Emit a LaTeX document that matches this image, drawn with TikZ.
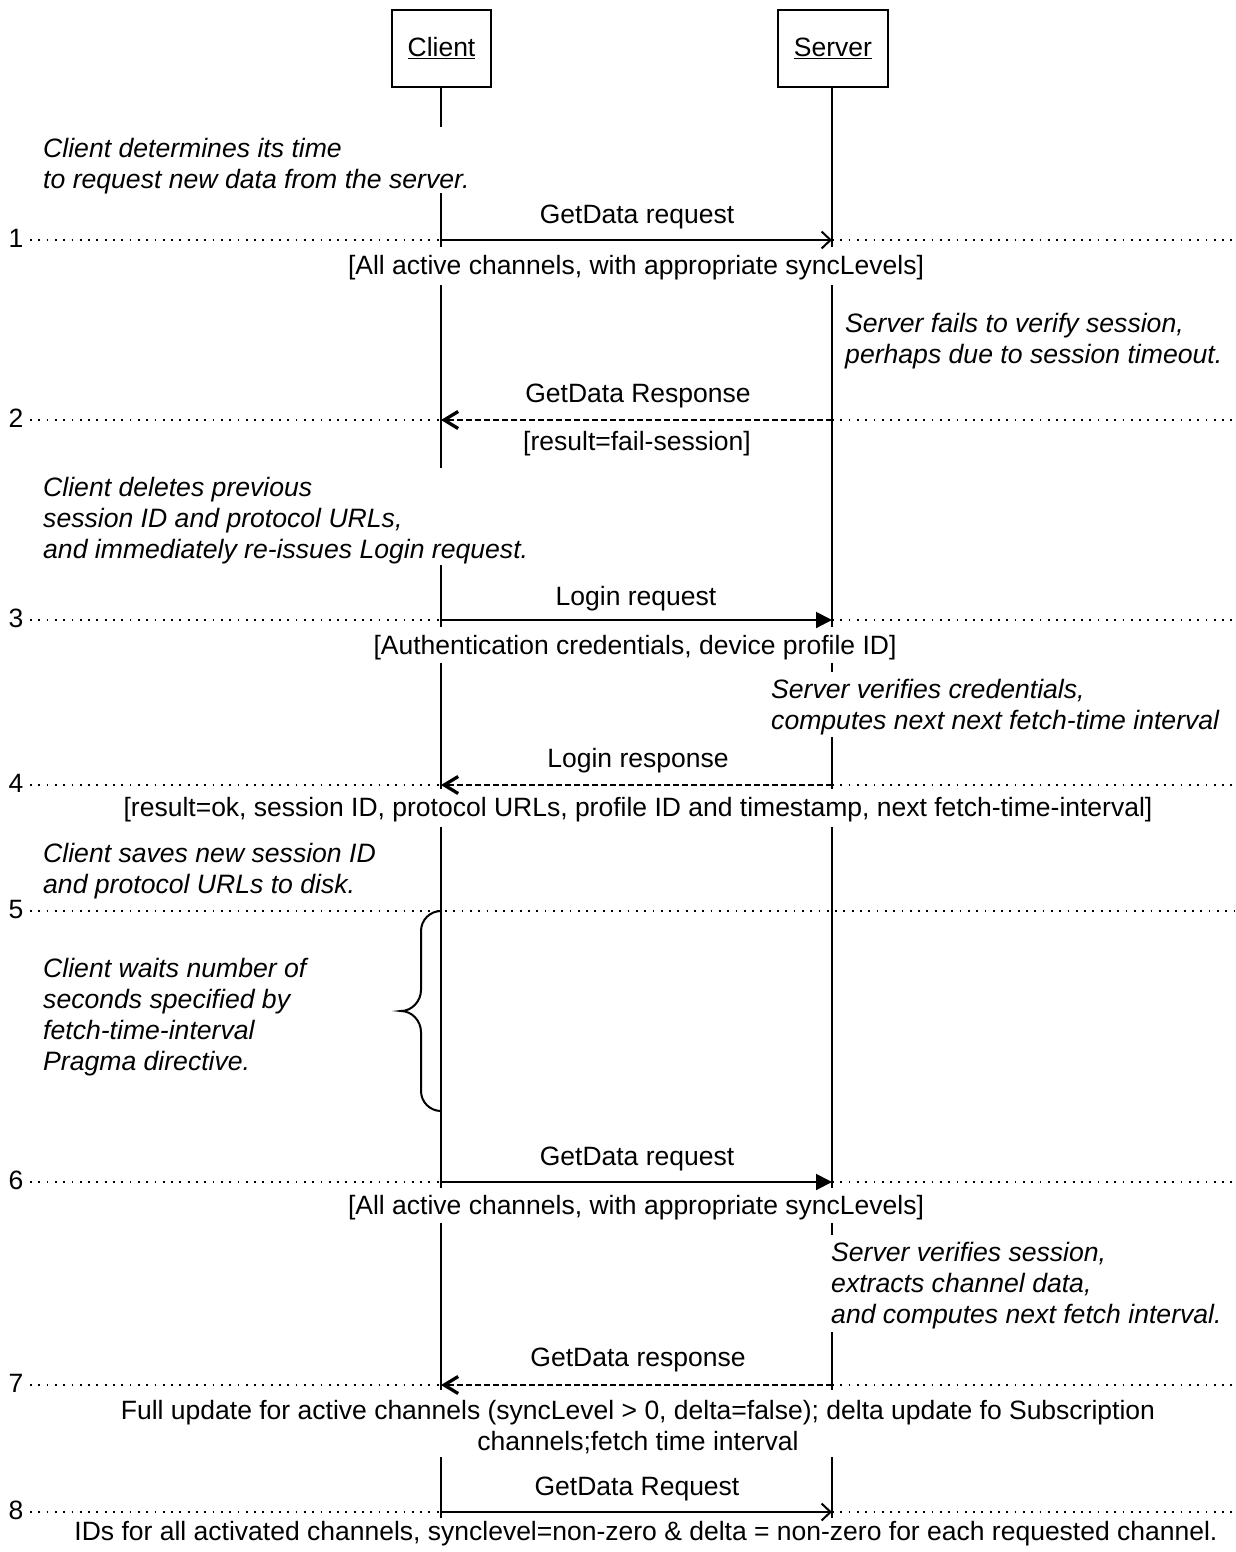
\documentclass[tikz,border=0pt]{standalone}
\usepackage{fontspec}
\setmainfont{Liberation Sans}
\usetikzlibrary{arrows.meta}
\begin{document}
\begin{tikzpicture}[x=1pt,y=1pt,
  every node/.style={inner sep=0pt, font=\fontsize{26.5}{31}\selectfont},
  note/.style={align=left, anchor=west, font=\fontsize{26.6}{31}\selectfont\itshape},
  lbl/.style={align=center},
  actor/.style={draw, line width=2pt, minimum height=77pt},
  life/.style={line width=2pt},
  guide/.style={line width=1.8pt, dash pattern=on 1.8pt off 6.5pt},
  callopen/.style={line width=2pt, -{Straight Barb[length=9pt,width=17pt]}},
  callfill/.style={line width=2pt, -{Triangle[length=16pt,width=16pt]}},
  reply/.style={line width=2pt, dash pattern=on 6pt off 3pt,
    -{Straight Barb[length=14pt,width=17pt,line width=3.3pt]}},
  brace/.style={line width=2pt}
]
\useasboundingbox (0,0) rectangle (1236,-1552);

% participants
\node[actor, minimum width=99pt] (client) at (441.5,-48.5) {\underline{Client}};
\node[actor, minimum width=110pt] (server) at (833,-48.5) {\underline{Server}};

% lifelines, broken where notes and labels sit on them
\foreach \a/\b in {87/127, 193/247, 285/468, 565/627, 663/789, 827/1188, 1223/1390, 1457/1518}
  \draw[life] (441,-\a) -- (441,-\b);
\foreach \a/\b in {87/247, 285/627, 663/672, 737/789, 827/1188, 1223/1235, 1332/1390, 1457/1518}
  \draw[life] (832,-\a) -- (832,-\b);

% step points: left end, client, server, right end
\foreach \i/\y in {1/240, 2/420, 3/620, 4/785, 5/911, 6/1182, 7/1385, 8/1512} {
  \coordinate (d\i) at (30,-\y);
  \coordinate (c\i) at (441,-\y);
  \coordinate (s\i) at (832,-\y);
  \coordinate (e\i) at (1236,-\y);
  \node (n\i) at (16,-\y+1.5) {\i};
}

% dotted step guides
\foreach \i in {1,2,3,4,6,7,8} {
  \draw[guide] (d\i) -- (c\i);
  \draw[guide] (s\i) -- (e\i);
}
\draw[guide] (d5) -- (e5);

% messages
\draw[callopen] (c1) -- (s1);
\draw[reply] (s2) -- (c2);
\draw[callfill] (c3) -- (s3);
\draw[reply] (s4) -- (c4);
\draw[callfill] (c6) -- (s6);
\draw[reply] (s7) -- (c7);
\draw[callopen] (c8) -- (s8);

% message labels
\node[lbl] (m1a) at (637,-217) {GetData request};
\node[lbl] (m1b) at (636,-268) {[All active channels, with appropriate syncLevels]};
\node[lbl] (m2a) at (638,-396) {GetData Response};
\node[lbl] (m2b) at (637,-444) {[result=fail-session]};
\node[lbl] (m3a) at (636,-599) {Login request};
\node[lbl] (m3b) at (635,-648) {[Authentication credentials, device profile ID]};
\node[lbl] (m4a) at (638,-761) {Login response};
\node[lbl] (m4b) at (638,-810) {[result=ok, session ID, protocol URLs, profile ID and timestamp, next fetch-time-interval]};
\node[lbl] (m6a) at (637,-1159) {GetData request};
\node[lbl] (m6b) at (636,-1208) {[All active channels, with appropriate syncLevels]};
\node[lbl] (m7a) at (638,-1360) {GetData response};
\node[lbl] (m7b) at (638,-1427) {Full update for active channels (syncLevel > 0, delta=false); delta update fo Subscription\\channels;fetch time interval};
\node[lbl] (m8a) at (637,-1489) {GetData Request};
\node[lbl] (m8b) at (646,-1534) {IDs for all activated channels, synclevel=non-zero \& delta = non-zero for each requested channel.};

% notes
\node[note] (na) at (43,-166) {Client determines its time\\to request new data from the server.};
\node[note] (nb) at (845,-341) {Server fails to verify session,\\perhaps due to session timeout.};
\node[note] (nc) at (43,-521) {Client deletes previous\\session ID and protocol URLs,\\and immediately re-issues Login request.};
\node[note] (nd) at (771,-707) {Server verifies credentials,\\computes next next fetch-time interval};
\node[note] (ne) at (43,-871) {Client saves new session ID\\and protocol URLs to disk.};
\node[note] (nf) at (43,-1017) {Client waits number of\\seconds specified by\\fetch-time-interval\\Pragma directive.};
\node[note] (ng) at (831,-1286) {Server verifies session,\\extracts channel data,\\and computes next fetch interval.};

% waiting interval brace
\coordinate (bt) at (441,-911);
\coordinate (bb) at (441,-1111);
\draw[brace] (bt) .. controls (430,-911) and (421,-920) .. (421,-931)
  -- (421,-990) .. controls (421,-1001) and (412,-1011) .. (401,-1011)
  .. controls (412,-1011) and (421,-1021) .. (421,-1032)
  -- (421,-1091) .. controls (421,-1102) and (430,-1111) .. (bb);
\end{tikzpicture}
\end{document}
